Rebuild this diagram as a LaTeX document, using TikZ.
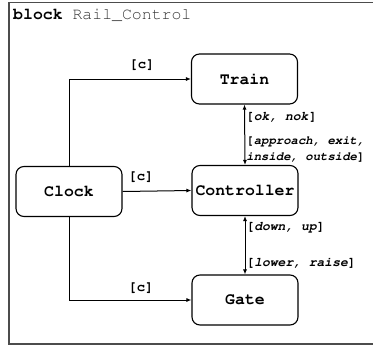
\documentclass[tikz,border=0pt]{standalone}
\usepackage[T1]{fontenc}
\usepackage{courier}
\usetikzlibrary{arrows.meta}

\begin{document}
\begin{tikzpicture}[x=1pt, y=-1pt,
    blk/.style={draw, rectangle, rounded corners=8pt, line width=1.1pt, minimum width=106pt, minimum height=50pt, font=\ttfamily\bfseries\fontsize{16.5}{18}\selectfont},
    flow/.style={line width=1pt, -{Latex[length=5pt, width=4pt]}},
    chan/.style={line width=1pt, {Latex[length=5pt, width=4pt]}-{Latex[length=5pt, width=4pt]}},
    lbl/.style={font=\ttfamily\bfseries\fontsize{13}{16}\selectfont, inner sep=1pt, align=left},
    clk/.style={font=\ttfamily\bfseries\fontsize{14}{16}\selectfont, inner sep=1pt}]
  \useasboundingbox (0,0) rectangle (373,346);
  % block frame, runs past the right edge
  \draw[line width=1.3pt, black!70] (9,2.5) rectangle (390,344);
  \node[anchor=west, inner sep=0pt, font=\ttfamily\fontsize{16.5}{18}\selectfont] (title) at (13,15) {\textbf{block} \textcolor{black!80}{Rail\_Control}};

  \node[blk] (train) at (244.5,79) {Train};
  \node[blk] (ctrl) at (245,190.5) {Controller};
  \node[blk] (clock) at (69,191.5) {Clock};
  \node[blk] (gate) at (245,300) {Gate};

  \node[clk] (c1) at (142,65) {[c]};
  \node[clk] (c2) at (141,177) {[c]};
  \node[clk] (c3) at (141,288) {[c]};

  \draw[flow] (clock.north) |- (train.west);
  \draw[flow] (clock.east) -- (ctrl.west);
  \draw[flow] (clock.south) |- (gate.west);

  \draw[chan] (train.south) -- node[lbl, anchor=west, pos=0.21] (tin) {[\textit{ok, nok}]}
    node[lbl, anchor=west, pos=0.74, font=\ttfamily\bfseries\fontsize{12.3}{16}\selectfont] (tout) {[\textit{approach, exit,}\\\textit{inside, outside}]} (ctrl.north);
  \draw[chan] (ctrl.south) -- node[lbl, anchor=west, pos=0.19] (gin) {[\textit{down, up}]}
    node[lbl, anchor=west, pos=0.81] (gout) {[\textit{lower, raise}]} (gate.north);
\end{tikzpicture}
\end{document}
